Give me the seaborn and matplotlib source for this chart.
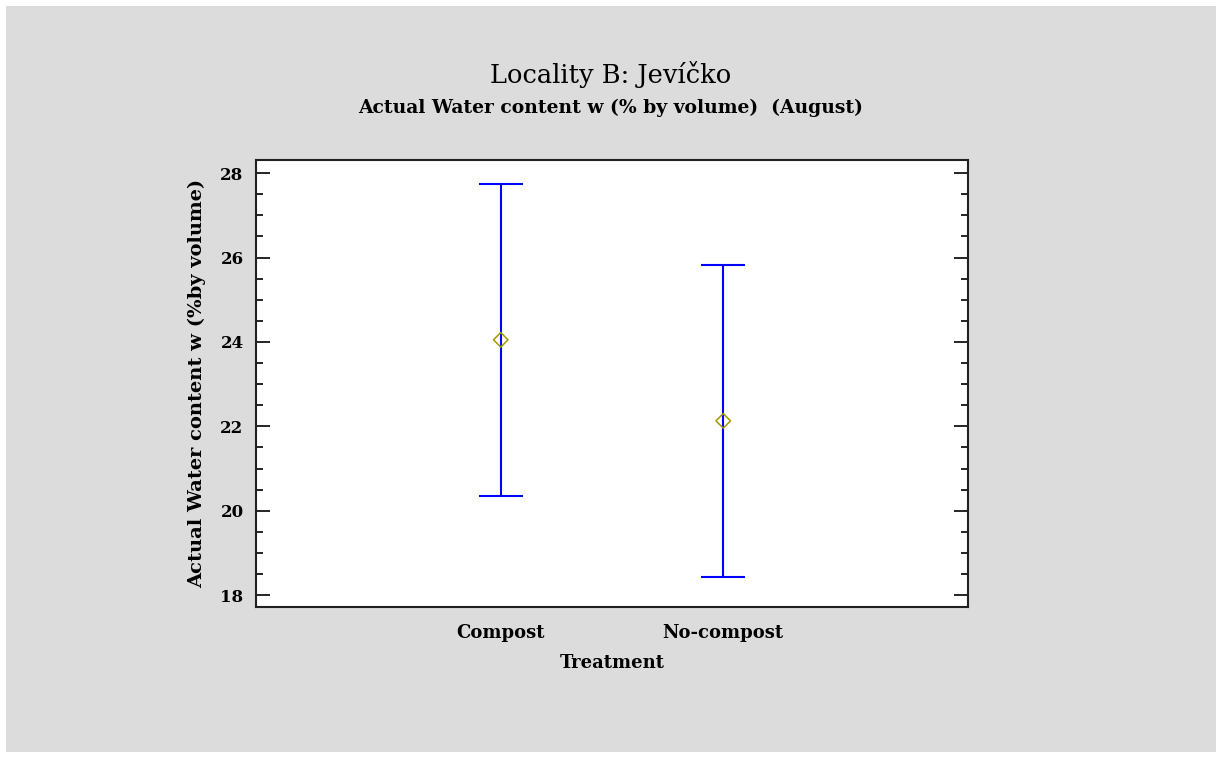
import numpy as np
import pandas as pd
import matplotlib
matplotlib.use('Agg')
import matplotlib.pyplot as plt
import seaborn as sns
from matplotlib.patches import Rectangle
from matplotlib.ticker import MultipleLocator

# data
treatments = ['Compost', 'No-compost']
means = [24.05, 22.13]
half_width = [3.70, 3.70]

df = pd.DataFrame({'Treatment': treatments, 'mean': means, 'hw': half_width})

sns.set_style('ticks')
plt.rcParams['font.family'] = ['DejaVu Serif', 'Liberation Serif']
plt.rcParams['text.color'] = 'black'
plt.rcParams['axes.labelcolor'] = 'black'
plt.rcParams['xtick.color'] = 'black'
plt.rcParams['ytick.color'] = 'black'

fig = plt.figure(figsize=(12.22, 7.58), dpi=100, facecolor='white')
# grey panel with thin white margin
fig.patches.append(Rectangle((6 / 1222, 6 / 758), 1210 / 1222, 746 / 758,
                             transform=fig.transFigure, facecolor='#dcdcdc',
                             edgecolor='none', zorder=-10))

ax = fig.add_axes([256 / 1222, 1 - 607 / 758, 712 / 1222, 447 / 758])
ax.set_facecolor('white')

ax.errorbar(df['Treatment'], df['mean'], yerr=df['hw'], fmt='none',
            ecolor='#0000ff', elinewidth=1.5, capsize=16, capthick=1.5, zorder=2)
sns.scatterplot(data=df, x='Treatment', y='mean', marker='D', s=55,
                facecolor='none', edgecolor='#a09a00', linewidth=1.1, ax=ax, zorder=3)

ax.set_xlim(-1.1, 2.1)
ax.set_ylim(17.72, 28.31)
ax.yaxis.set_major_locator(MultipleLocator(2))
ax.yaxis.set_minor_locator(MultipleLocator(0.5))

ax.tick_params(axis='y', which='major', direction='in', length=10, width=1.2,
               left=True, right=True, labelsize=12, pad=9)
ax.tick_params(axis='y', which='minor', direction='in', length=5, width=1.2,
               left=True, right=True)
ax.tick_params(axis='x', length=0, labelsize=13, pad=12)
for lab in ax.get_xticklabels() + ax.get_yticklabels():
    lab.set_fontweight('bold')

for sp in ax.spines.values():
    sp.set_visible(True)
    sp.set_linewidth(1.5)
    sp.set_color('#202020')

ax.set_xlabel('Treatment', fontsize=13, fontweight='bold', labelpad=9)
ax.set_ylabel('Actual Water content w (%by volume)', fontsize=14, fontweight='bold', labelpad=10)

fig.text(0.5, 1 - 75 / 758, 'Locality B: Jevíčko', ha='center', va='center', fontsize=18.5)
fig.text(0.5, 1 - 108 / 758, 'Actual Water content w (% by volume)  (August)',
         ha='center', va='center', fontsize=13.5, fontweight='bold')

fig.savefig('out.png', dpi=100, facecolor=fig.get_facecolor())
